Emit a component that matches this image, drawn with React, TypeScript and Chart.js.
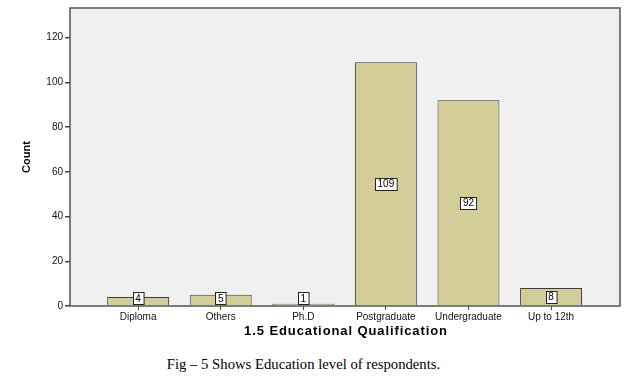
import React, { useEffect, useRef } from "react";
import { Chart, registerables } from "chart.js";

Chart.register(...registerables);

const categories = ["Diploma", "Others", "Ph.D", "Postgraduate", "Undergraduate", "Up to 12th"];
const counts = [4, 5, 1, 109, 92, 8];
const yTicks = [0, 20, 40, 60, 80, 100, 120];
const yMax = 133.3;
const xTitle = "1.5 Educational Qualification";
const yTitle = "Count";
const caption = "Fig \u2013 5 Shows Education level of respondents.";

const plotBox = {
  id: "plotBox",
  beforeDatasetsDraw(chart: any) {
    const { ctx, chartArea: a } = chart;
    ctx.save();
    ctx.fillStyle = "#f0f0f0";
    ctx.fillRect(a.left, a.top, a.right - a.left, a.bottom - a.top);
    ctx.restore();
  },
  afterDatasetsDraw(chart: any) {
    const { ctx, chartArea: a } = chart;
    ctx.save();
    ctx.strokeStyle = "#555555";
    ctx.lineWidth = 1.5;
    ctx.strokeRect(a.left, a.top, a.right - a.left, a.bottom - a.top);
    const meta = chart.getDatasetMeta(0);
    ctx.font = "10px Arial, 'Liberation Sans', sans-serif";
    ctx.textAlign = "center";
    ctx.textBaseline = "middle";
    meta.data.forEach((el: any, i: number) => {
      const txt = String(counts[i]);
      const w = ctx.measureText(txt).width + 5;
      const h = 12;
      let cy = (el.y + el.base) / 2;
      cy = Math.min(cy, el.base - 7);
      const x = Math.round(el.x - w / 2) + 0.5;
      const y = Math.round(cy - h / 2) + 0.5;
      ctx.fillStyle = "#ffffff";
      ctx.fillRect(x, y, w, h);
      ctx.strokeStyle = "#222222";
      ctx.lineWidth = 1;
      ctx.strokeRect(x, y, w, h);
      ctx.fillStyle = "#000000";
      ctx.fillText(txt, el.x, cy + 0.5);
    });
    ctx.restore();
  },
  afterDraw(chart: any) {
    const { ctx, chartArea: a } = chart;
    ctx.save();
    ctx.font = "bold 13px Arial, 'Liberation Sans', sans-serif";
    (ctx as any).letterSpacing = "0.9px";
    ctx.fillStyle = "#000000";
    ctx.textAlign = "center";
    ctx.textBaseline = "middle";
    ctx.fillText(xTitle, (a.left + a.right) / 2 + 1, 331);
    ctx.restore();
  },
};

export default function App() {
  const ref = useRef<HTMLCanvasElement | null>(null);
  useEffect(() => {
    if (!ref.current) return;
    const chart = new Chart(ref.current, {
      type: "bar",
      data: {
        datasets: [
          {
            data: counts.map((v, i) => ({ x: i, y: v })),
            backgroundColor: "#d3ce98",
            borderColor: "#3c3c3c",
            borderWidth: 1,
            barPercentage: 0.75,
            categoryPercentage: 1,
          },
        ],
      },
      options: {
        animation: false,
        responsive: true,
        maintainAspectRatio: false,
        layout: { padding: { top: 6, right: 21, left: 0, bottom: 0 } },
        plugins: { legend: { display: false }, tooltip: { enabled: false } },
        scales: {
          x: {
            type: "linear",
            offset: false,
            min: -0.825,
            max: 5.835,
            afterFit: (s: any) => {
              s.height = 39;
            },
            afterBuildTicks: (s: any) => {
              s.ticks = categories.map((_, i) => ({ value: i }));
            },
            ticks: {
              autoSkip: false,
              maxRotation: 0,
              padding: 1,
              color: "#111111",
              font: { family: "Arial, 'Liberation Sans', sans-serif", size: 10 },
              callback: (v: any) => categories[v as number] ?? "",
            },
            grid: { display: true, offset: false, drawOnChartArea: false, tickLength: 4, color: "#444444", lineWidth: 1 },
            border: { display: false },
            title: { display: false },
          },
          y: {
            min: 0,
            max: yMax,
            afterFit: (s: any) => {
              s.width = 70;
            },
            afterBuildTicks: (s: any) => {
              s.ticks = yTicks.map((v) => ({ value: v }));
            },
            ticks: {
              padding: 2,
              color: "#111111",
              font: { family: "Arial, 'Liberation Sans', sans-serif", size: 10 },
            },
            grid: { display: true, drawOnChartArea: false, tickLength: 5, color: "#444444", lineWidth: 1.5 },
            border: { display: false },
            title: {
              display: true,
              text: yTitle,
              color: "#000000",
              font: { family: "Arial, 'Liberation Sans', sans-serif", size: 11, weight: "bold" },
              padding: { top: 20, bottom: 0 },
            },
          },
        },
      },
      plugins: [plotBox],
    });
    return () => chart.destroy();
  }, []);

  return (
    <div style={{ position: "fixed", left: 0, top: 0, width: 641, height: 380, background: "#ffffff" }}>
      <div style={{ position: "absolute", left: 0, top: 0, width: 641, height: 345 }}>
        <canvas ref={ref} />
      </div>
      <div
        style={{
          position: "absolute",
          left: 0,
          top: 355,
          width: 607,
          textAlign: "center",
          fontFamily: "'Times New Roman', 'Liberation Serif', serif",
          fontSize: 14.7,
          lineHeight: "18px",
          color: "#000000",
        }}
      >
        {caption}
      </div>
    </div>
  );
}
